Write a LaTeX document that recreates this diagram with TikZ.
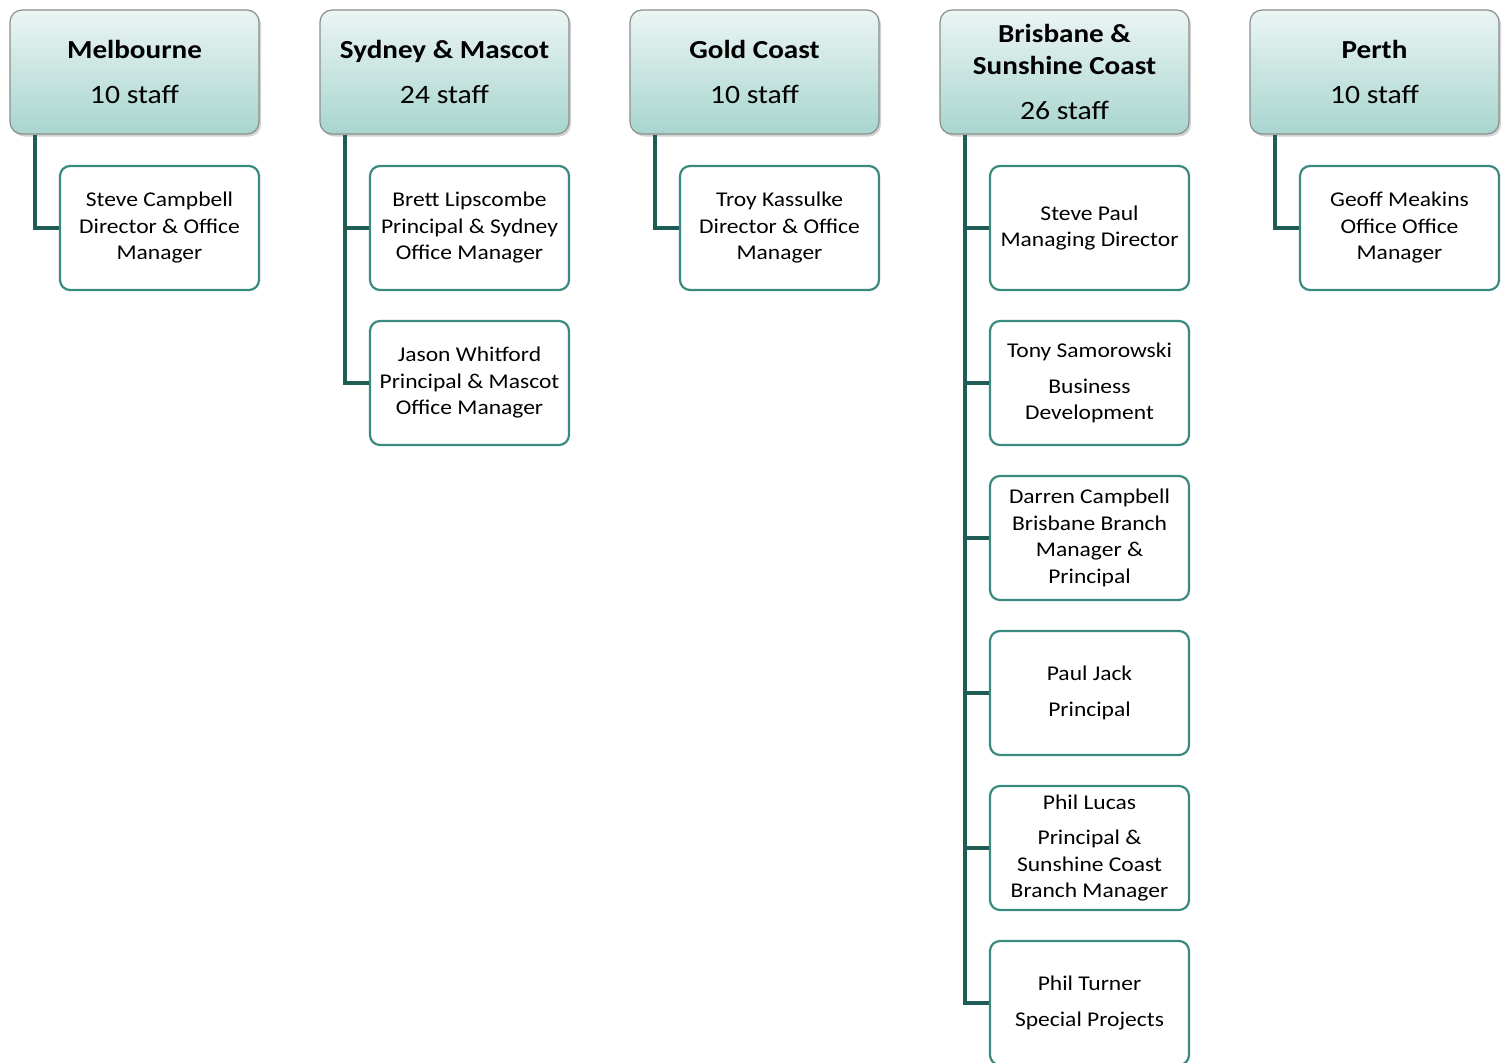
\documentclass[tikz,border=0pt]{standalone}
\usepackage{fontspec}
\setmainfont{Carlito}[FakeStretch=1.12]
\usetikzlibrary{shadows}
\definecolor{linkcol}{HTML}{1F5C56}
\definecolor{memberedge}{HTML}{3A8A80}
\definecolor{headedge}{HTML}{8A8F8E}
\definecolor{headtop}{HTML}{EBF5F4}
\definecolor{headbot}{HTML}{A8D5CE}

\begin{document}
\begin{tikzpicture}[x=1pt, y=-1pt,
    office/.style={rectangle, rounded corners=12pt, draw=headedge, line width=1.2pt,
      top color=headtop, bottom color=headbot, minimum width=249pt, minimum height=124pt,
      align=center, font=\fontsize{26.5}{32}\selectfont,
      drop shadow={shadow xshift=2pt, shadow yshift=-2.5pt, opacity=0.35}},
    member/.style={rectangle, rounded corners=10pt, draw=memberedge, line width=2.2pt,
      fill=white, minimum width=199pt, minimum height=124pt, inner sep=2pt,
      align=center, font=\fontsize{21}{26.5}\selectfont},
    link/.style={draw=linkcol, line width=4pt}]
    \useasboundingbox (0,0) rectangle (1506,1062);
    \clip (0,0) rectangle (1506,1062);

    % Standorte
    \node[office] (mel) at (134.5,72) {\textbf{\fontsize{26}{32}\selectfont Melbourne}\\[13pt]10 staff};
    \node[office] (syd) at (444.5,72) {\textbf{\fontsize{26}{32}\selectfont Sydney \& Mascot}\\[13pt]24 staff};
    \node[office] (gold) at (754.5,72) {\textbf{\fontsize{26}{32}\selectfont Gold Coast}\\[13pt]10 staff};
    \node[office] (bri) at (1064.5,72) {\textbf{\fontsize{26}{32}\selectfont Brisbane \&}\\\textbf{\fontsize{26}{32}\selectfont Sunshine Coast}\\[13pt]26 staff};
    \node[office] (per) at (1374.5,72) {\textbf{\fontsize{26}{32}\selectfont Perth}\\[13pt]10 staff};

    % Mitarbeiter
    \node[member] (mel1) at (159.5,228) {Steve Campbell\\Director \& Office\\Manager};
    \node[member] (syd1) at (469.5,228) {Brett Lipscombe\\Principal \& Sydney\\Office Manager};
    \node[member] (syd2) at (469.5,383) {Jason Whitford\\Principal \& Mascot\\Office Manager};
    \node[member] (gold1) at (779.5,228) {Troy Kassulke\\Director \& Office\\Manager};
    \node[member] (bri1) at (1089.5,228) {Steve Paul\\Managing Director};
    \node[member] (bri2) at (1089.5,383) {Tony Samorowski\\[9pt]Business\\Development};
    \node[member] (bri3) at (1089.5,538) {Darren Campbell\\Brisbane Branch\\Manager \&\\Principal};
    \node[member] (bri4) at (1089.5,693) {Paul Jack\\[9pt]Principal};
    \node[member] (bri5) at (1089.5,848) {Phil Lucas\\[9pt]Principal \&\\Sunshine Coast\\Branch Manager};
    \node[member] (bri6) at (1089.5,1003) {Phil Turner\\[9pt]Special Projects};
    \node[member] (per1) at (1399.5,228) {Geoff Meakins\\Office Office\\Manager};

    % Verbindungen
    \draw[link] ([xshift=26pt]mel.south west) |- (mel1.west);
    \foreach \m in {syd1, syd2} \draw[link] ([xshift=26pt]syd.south west) |- (\m.west);
    \draw[link] ([xshift=26pt]gold.south west) |- (gold1.west);
    \foreach \m in {bri1, bri2, bri3, bri4, bri5, bri6} \draw[link] ([xshift=26pt]bri.south west) |- (\m.west);
    \draw[link] ([xshift=26pt]per.south west) |- (per1.west);
  \end{tikzpicture}
\end{document}
